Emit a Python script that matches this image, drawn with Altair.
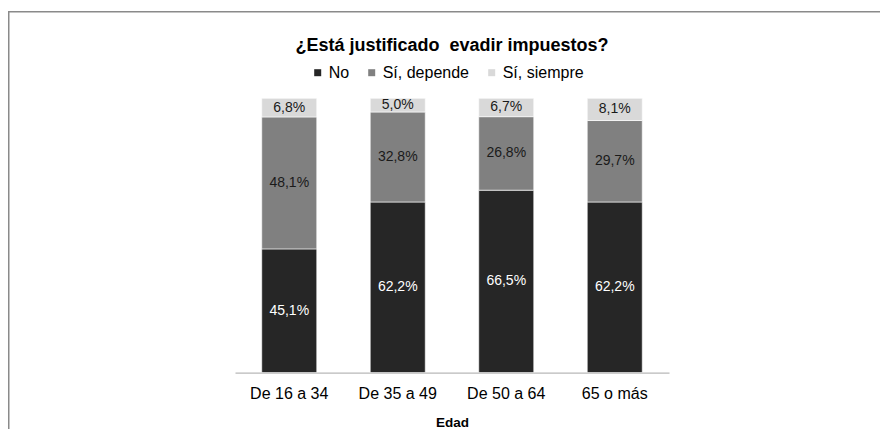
import altair as alt
import pandas as pd

categories = ["De 16 a 34", "De 35 a 49", "De 50 a 64", "65 o más"]
series = ["No", "Sí, depende", "Sí, siempre"]
no_vals = [45.1, 62.2, 66.5, 62.2]
depende_vals = [48.1, 32.8, 26.8, 29.7]
siempre_vals = [6.8, 5.0, 6.7, 8.1]
colors = ["#262626", "#808080", "#d9d9d9"]
title_text = "¿Está justificado\u00a0 evadir impuestos?"
x_title = "Edad"

rows = []
for i, c in enumerate(categories):
    for j, (s, vals) in enumerate(zip(series, [no_vals, depende_vals, siempre_vals])):
        rows.append({"cat": c, "serie": s, "value": vals[i], "order": j})
df = pd.DataFrame(rows)

W, H = 434, 274.3
PL, PT = 227, 90.3
PR = 872 - PL - W
PB = 421 - PT - H
FONT = "Liberation Sans"

x_enc = alt.X(
    "cat:N", sort=categories, title=x_title,
    scale=alt.Scale(paddingInner=0.493, paddingOuter=0.2465),
    axis=alt.Axis(labelAngle=0, ticks=False, tickSize=0, labelPadding=13,
                  labelFontSize=16, labelFont=FONT, labelColor="#000000",
                  domainColor="#a6a6a6", domainWidth=1,
                  titleFontSize=13.5, titleFontWeight="bold", titleFont=FONT,
                  titleColor="#000000", titlePadding=14),
)

frame = alt.Chart(pd.DataFrame({"k": [0]})).mark_rect(
    fillOpacity=0, stroke="#8a8a8a", strokeWidth=1.5
).encode(
    x=alt.value(-226.25), x2=alt.value(W + 300),
    y=alt.value(-86.6), y2=alt.value(H + 200),
)

base = alt.Chart(df)

bars = base.mark_bar(stroke="#ffffff", strokeWidth=0.6).encode(
    x=x_enc,
    y=alt.Y("value:Q", stack="zero",
            scale=alt.Scale(domain=[0, 100], nice=False, zero=True), axis=None),
    color=alt.Color(
        "serie:N",
        scale=alt.Scale(domain=series, range=colors),
        legend=alt.Legend(orient="none", legendX=74.7, legendY=-33.6,
                          direction="horizontal", title=None,
                          symbolType="square", symbolSize=49, symbolStrokeWidth=0,
                          labelFontSize=16, labelFont=FONT, labelColor="#000000",
                          labelOffset=3, columnPadding=14, padding=0),
    ),
    order=alt.Order("order:Q", sort="ascending"),
)

labels = base.transform_stack(
    stack="value", as_=["y0", "y1"], groupby=["cat"],
    sort=[alt.SortField("order", order="ascending")],
).transform_calculate(
    mid="(datum.y0 + datum.y1) / 2",
    lbl="replace(format(datum.value, '.1f'), '.', ',') + '%'",
).mark_text(font=FONT, fontSize=14, baseline="middle").encode(
    x=alt.X("cat:N", sort=categories),
    y=alt.Y("mid:Q"),
    text="lbl:N",
    color=alt.condition("datum.serie == 'No'", alt.value("#ffffff"), alt.value("#1a1a1a")),
)

chart = alt.layer(frame, bars, labels).properties(
    width=W, height=H,
    title=alt.TitleParams(title_text, anchor="middle", frame="group", fontSize=18,
                          font=FONT, fontWeight="bold", color="#000000",
                          offset=0, baseline="middle", dy=53.35),
    autosize=alt.AutoSizeParams(type="none"),
    padding={"left": PL, "top": PT, "right": PR, "bottom": PB},
).configure_view(strokeWidth=0)

chart.save("out.html", embed_options={"renderer": "svg", "actions": False})
